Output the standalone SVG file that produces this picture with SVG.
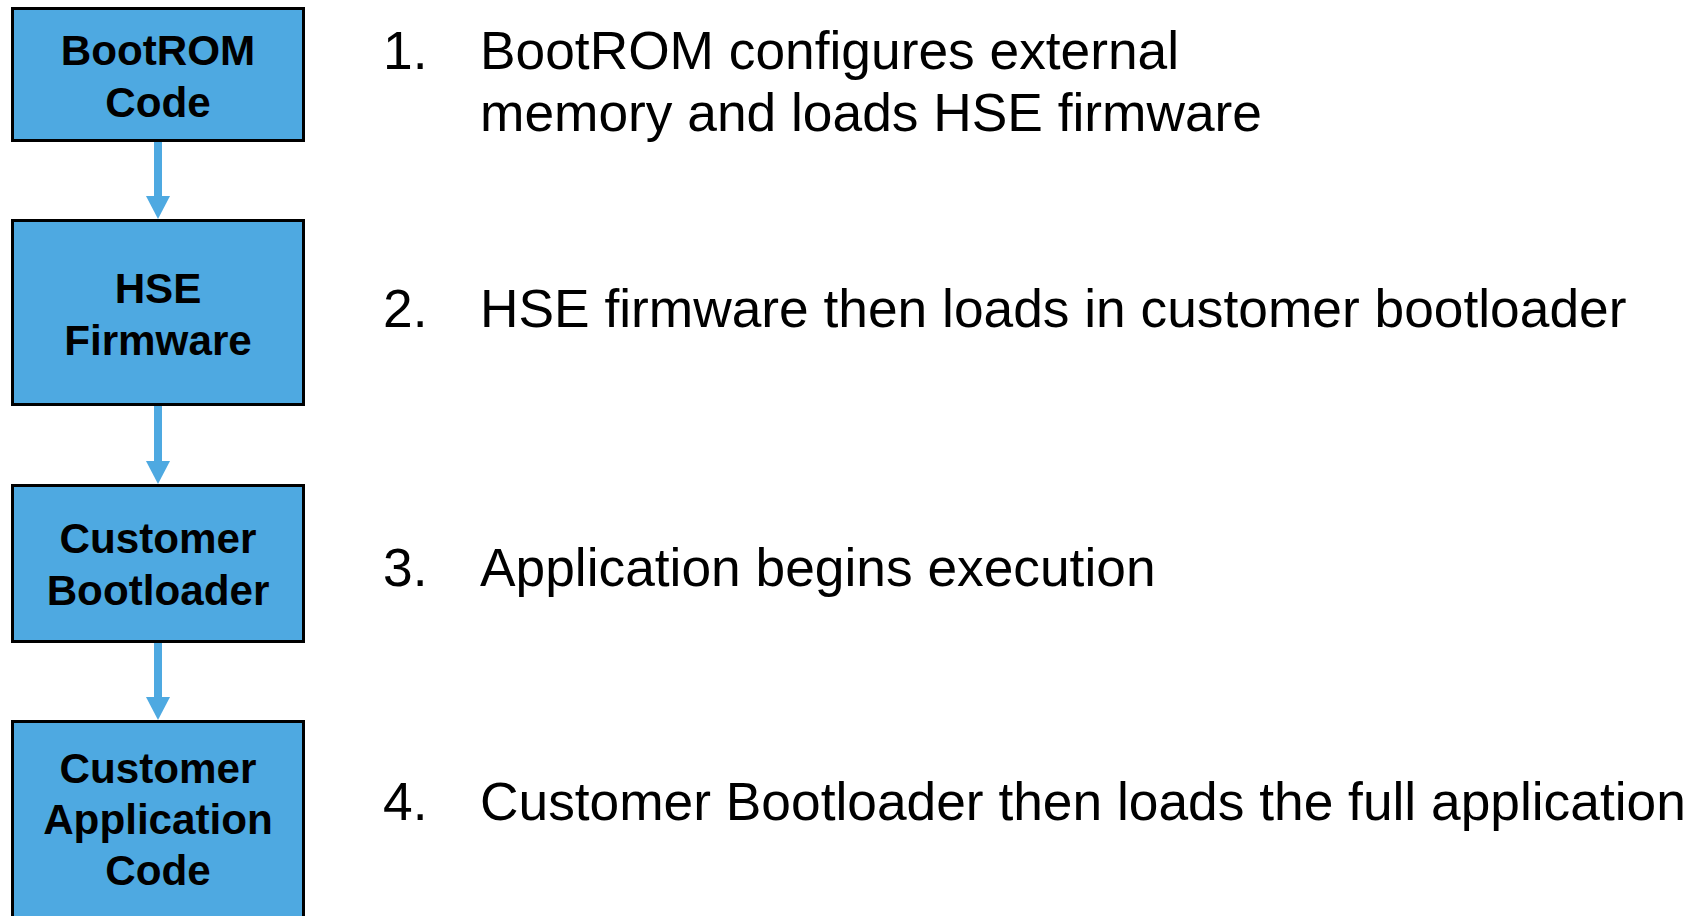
<svg xmlns="http://www.w3.org/2000/svg" width="1703" height="916" viewBox="0 0 1703 916">
  <style>
    .box { fill: #4EA9E1; stroke: #000; stroke-width: 3; }
    .label { font-family: "Liberation Sans", Arial, sans-serif; font-weight: bold; font-size: 42.2px; fill: #000; text-anchor: middle; }
    .step { font-family: "Liberation Sans", Arial, sans-serif; font-size: 53.3px; fill: #000; }
    .flow { stroke: #4EA9E1; stroke-width: 8; fill: none; marker-end: url(#head); }
  </style>
  <defs>
    <marker id="head" markerUnits="userSpaceOnUse" viewBox="0 0 23 24" markerWidth="23" markerHeight="24" refX="3" refY="12" orient="auto">
      <path d="M0,0 L23,12 L0,24 Z" fill="#4EA9E1"/>
    </marker>
  </defs>
  <rect width="1703" height="916" fill="#fff"/>

  <!-- connectors between boot stages -->
  <g id="connectors">
    <line class="flow" x1="158" y1="142" x2="158" y2="199"/>
    <line class="flow" x1="158" y1="406" x2="158" y2="464"/>
    <line class="flow" x1="158" y1="643" x2="158" y2="700"/>
  </g>

  <g id="node-bootrom">
    <rect class="box" x="12.5" y="8.5" width="291" height="132"/>
    <text class="label" x="158" y="65">BootROM</text>
    <text class="label" x="158" y="117">Code</text>
  </g>

  <g id="node-hse">
    <rect class="box" x="12.5" y="220.5" width="291" height="184"/>
    <text class="label" x="158" y="303">HSE</text>
    <text class="label" x="158" y="355">Firmware</text>
  </g>

  <g id="node-bootloader">
    <rect class="box" x="12.5" y="485.5" width="291" height="156"/>
    <text class="label" x="158" y="553">Customer</text>
    <text class="label" x="158" y="605">Bootloader</text>
  </g>

  <g id="node-application">
    <rect class="box" x="12.5" y="721.5" width="291" height="220"/>
    <text class="label" x="158" y="783">Customer</text>
    <text class="label" x="158" y="834">Application</text>
    <text class="label" x="158" y="885">Code</text>
  </g>

  <!-- numbered description of each stage -->
  <g id="steps">
    <text class="step" x="383" y="69">1.</text>
    <text class="step" x="480" y="69">BootROM configures external</text>
    <text class="step" x="480" y="131">memory and loads HSE firmware</text>
    <text class="step" x="383" y="327">2.</text>
    <text class="step" x="480" y="327">HSE firmware then loads in customer bootloader</text>
    <text class="step" x="383" y="586">3.</text>
    <text class="step" x="480" y="586">Application begins execution</text>
    <text class="step" x="383" y="820">4.</text>
    <text class="step" x="480" y="820">Customer Bootloader then loads the full application</text>
  </g>
</svg>
